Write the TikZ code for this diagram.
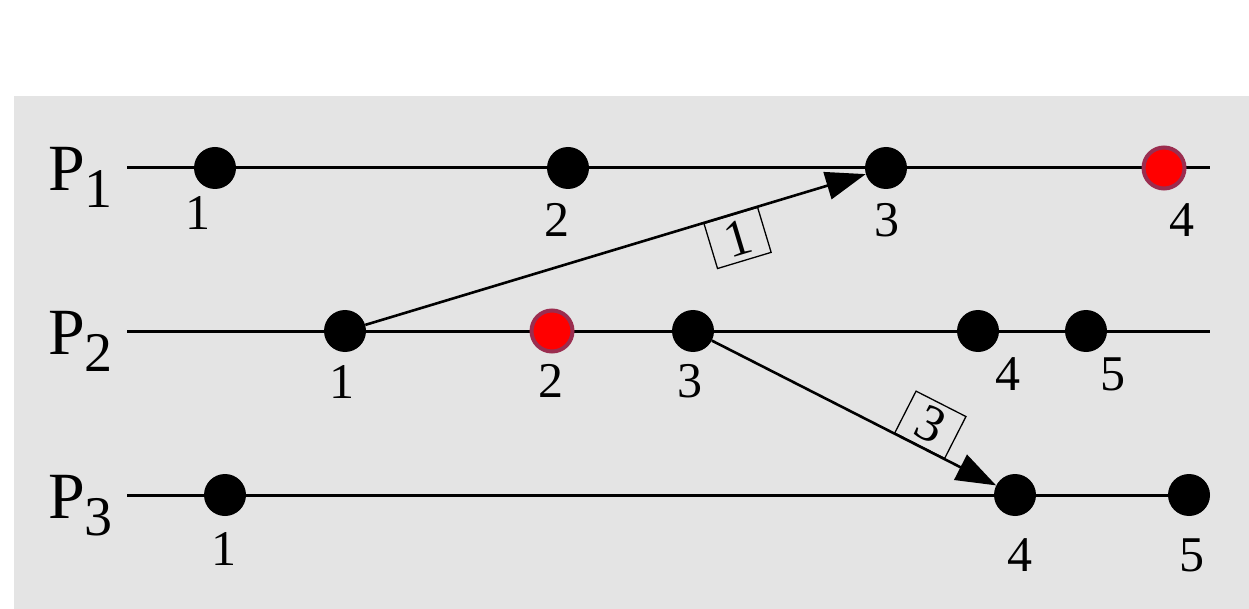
\documentclass[tikz,border=0pt]{standalone}
\usepackage{fontspec}
\setmainfont{Liberation Serif}
\usetikzlibrary{arrows.meta}
\definecolor{bg}{HTML}{E4E4E4}
\definecolor{rim}{HTML}{9B2D4F}
\tikzset{
  ev/.style={circle,fill=black,minimum size=42pt,inner sep=0pt},
  evred/.style={circle,fill=red,draw=rim,line width=4pt,minimum size=41pt,inner sep=0pt},
  timeline/.style={line width=3pt},
  msg/.style={line width=2.6pt,-{Triangle[length=40pt,width=28pt]}},
  lbl/.style={font=\fontsize{50}{50}\selectfont,inner sep=0pt},
  msgbox/.style={draw,line width=1.3pt,font=\fontsize{52}{52}\selectfont,minimum width=56pt,minimum height=47pt,inner sep=0pt,sloped},
}
\newcommand{\proc}[1]{{\fontsize{66}{66}\selectfont P}\raisebox{-17pt}{\fontsize{56}{56}\selectfont #1}}
\begin{document}
\begin{tikzpicture}[x=1pt,y=-1pt]
\useasboundingbox (0,0) rectangle (1249,609);
\fill[white] (0,0) rectangle (1249,609);
\fill[bg] (14,96) rectangle (1249,609);
% process labels
\node[anchor=base west,inner sep=0pt] (P1) at (48,191) {\proc{1}};
\node[anchor=base west,inner sep=0pt] (P2) at (48,354) {\proc{2}};
\node[anchor=base west,inner sep=0pt] (P3) at (48,518) {\proc{3}};
% timelines
\coordinate (l1s) at (127,168); \coordinate (l1e) at (1210,168);
\coordinate (l2s) at (127,331); \coordinate (l2e) at (1210,331);
\coordinate (l3s) at (127,495); \coordinate (l3e) at (1210,495);
\draw[timeline] (l1s) -- (l1e);
\draw[timeline] (l2s) -- (l2e);
\draw[timeline] (l3s) -- (l3e);
% events P1
\node[ev] (p11) at (215,168) {};
\node[ev] (p12) at (568,168) {};
\node[ev] (p13) at (886,168) {};
\node[evred] (p14) at (1164,168) {};
% events P2
\node[ev] (p21) at (345,331) {};
\node[evred] (p22) at (552,331) {};
\node[ev] (p23) at (693,331) {};
\node[ev] (p24) at (978,331) {};
\node[ev] (p25) at (1086,331) {};
% events P3
\node[ev] (p31) at (225,495) {};
\node[ev] (p34) at (1015,495) {};
\node[ev] (p35) at (1189,495) {};
% event labels
\node[lbl] (t11) at (198,213) {1};
\node[lbl] (t12) at (557,220) {2};
\node[lbl] (t13) at (887,220) {3};
\node[lbl] (t14) at (1182,220) {4};
\node[lbl] (t21) at (342,382) {1};
\node[lbl] (t22) at (551,381) {2};
\node[lbl] (t23) at (690,381) {3};
\node[lbl] (t24) at (1008,374) {4};
\node[lbl] (t25) at (1113,374) {5};
\node[lbl] (t31) at (224,549) {1};
\node[lbl] (t34) at (1020,555) {4};
\node[lbl] (t35) at (1192,555) {5};
% messages
\draw[msg] (p21) -- node[msgbox,pos=0.73,anchor=north] (m1) {1} (p13);
\draw[msg] (p23) -- node[msgbox,pos=0.73,anchor=south] (m3) {3} (p34);
\end{tikzpicture}
\end{document}
